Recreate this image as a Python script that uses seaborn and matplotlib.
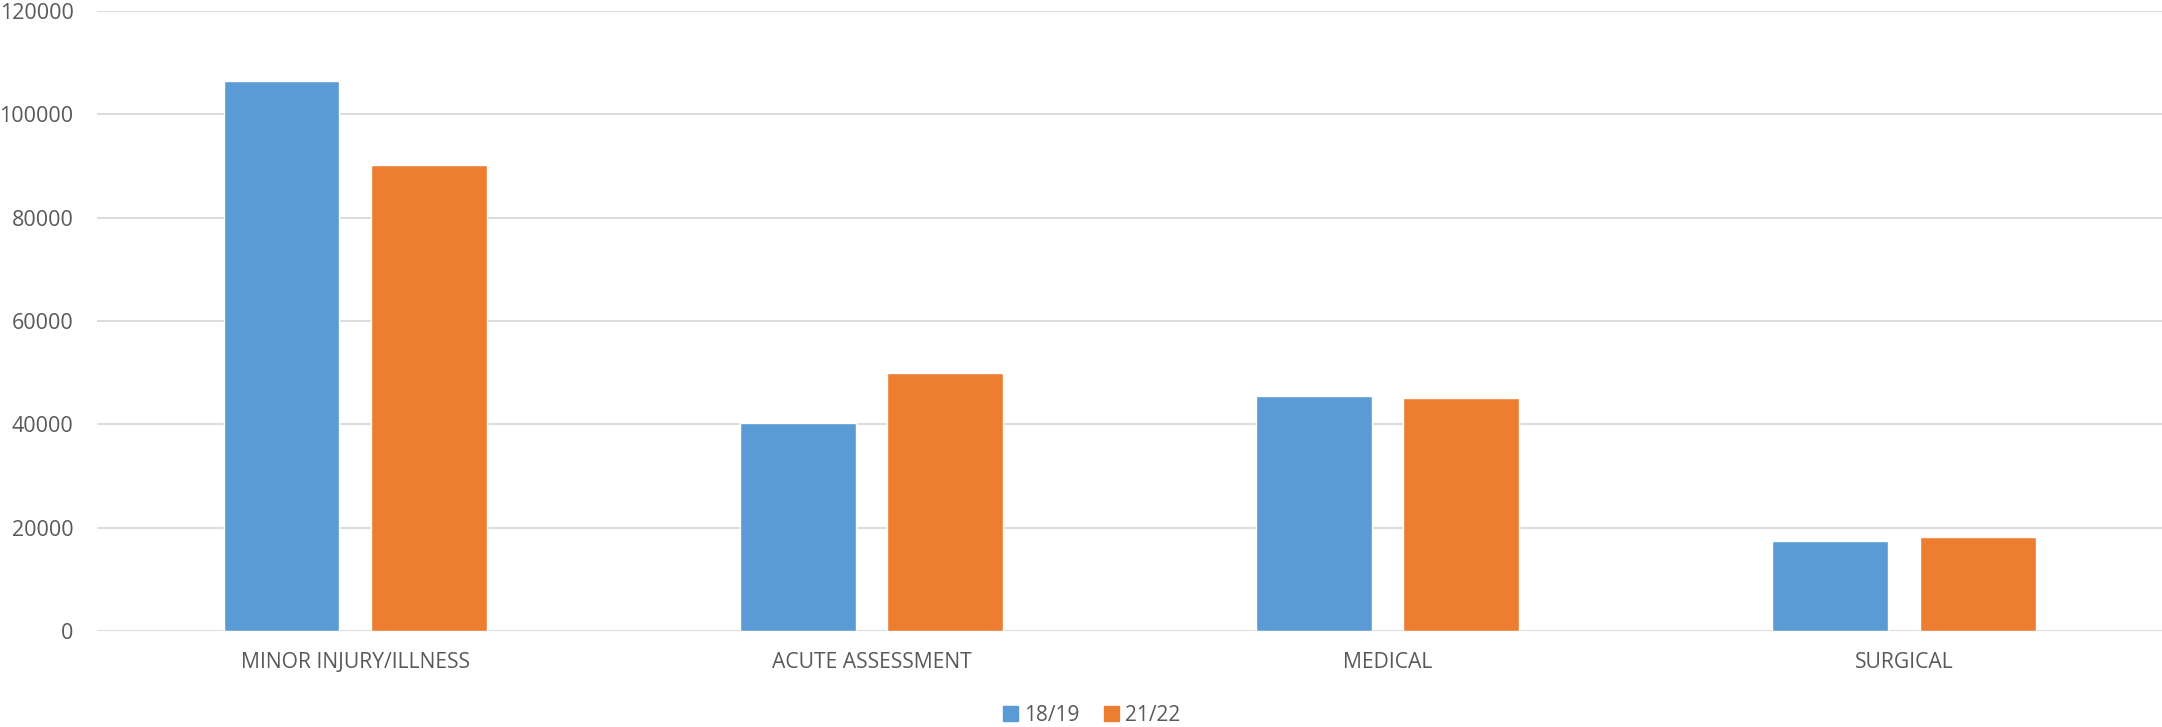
import matplotlib
matplotlib.use("Agg")
import matplotlib.pyplot as plt
import pandas as pd
import seaborn as sns

categories = ["MINOR INJURY/ILLNESS", "ACUTE ASSESSMENT", "MEDICAL", "SURGICAL"]
years = ["18/19", "21/22"]
values_1819 = [106400, 40200, 45400, 17500]
values_2122 = [90200, 50000, 45100, 18100]
colors = ["#5B9BD5", "#ED7D31"]

df = pd.DataFrame({
    "category": categories * 2,
    "year": [years[0]] * 4 + [years[1]] * 4,
    "value": values_1819 + values_2122,
})

sns.set_style("white")
plt.rcParams["font.family"] = ["Open Sans", "DejaVu Sans"]
text_color = "#595959"

fig = plt.figure(figsize=(21.62, 7.27), dpi=100)
ax = fig.add_axes([0.0449, 0.132, 0.9551, 0.853])

sns.barplot(data=df, x="category", y="value", hue="year", palette=colors,
            width=0.571, gap=0.213, saturation=1, ax=ax, legend=False)

ax.set_ylim(0, 120000)
ax.set_yticks(range(0, 120001, 20000))
ax.set_xlim(-0.5, 3.5)
ax.grid(axis="y", color="#D9D9D9", linewidth=1.3)
ax.set_axisbelow(True)
for s in ax.spines.values():
    s.set_visible(False)
ax.tick_params(axis="both", length=0, labelcolor=text_color)
ax.tick_params(axis="x", labelsize=15.2, pad=15)
ax.tick_params(axis="y", labelsize=15.5, pad=17)
ax.set_xlabel("")
ax.set_ylabel("")

handles = [plt.Rectangle((0, 0), 1, 1, color=c) for c in colors]
fig.legend(handles, years, loc="center", bbox_to_anchor=(0.505, 0.0165),
           ncol=2, frameon=False, fontsize=15, handlelength=0.7, handleheight=0.7,
           handletextpad=0.3, columnspacing=1.2, labelcolor=text_color)

fig.savefig("out.png", dpi=100)
